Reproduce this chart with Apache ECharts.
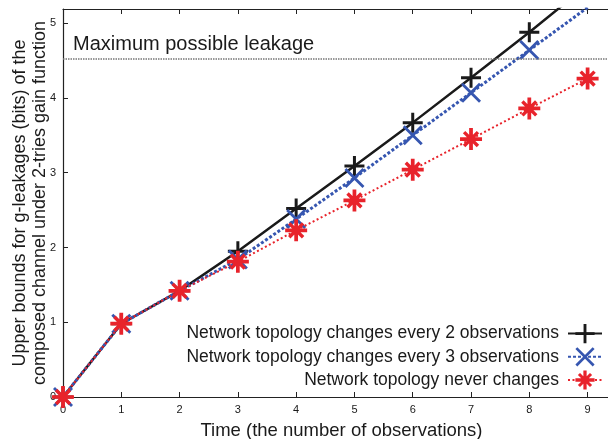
<!DOCTYPE html>
<html>
<head>
<meta charset="utf-8">
<script src="https://cdn.jsdelivr.net/npm/echarts@6/dist/echarts.min.js"></script>
<style>
html,body{margin:0;padding:0;background:#fff;}
#chart{width:608px;height:439px;}
</style>
</head>
<body>
<div id="chart"></div>
<script>
// ---- data ----
const timeSteps = [0, 1, 2, 3, 4, 5, 6, 7, 8, 9];
const every2Values = [0, 0.98, 1.42, 1.95, 2.52, 3.09, 3.67, 4.27, 4.88, 5.51];
const every3Values = [0, 0.98, 1.42, 1.84, 2.38, 2.93, 3.50, 4.07, 4.64, 5.21];
const neverValues  = [0, 0.98, 1.42, 1.81, 2.23, 2.63, 3.04, 3.45, 3.86, 4.26];
const seriesNames = [
  'Network topology changes every 2 observations',
  'Network topology changes every 3 observations',
  'Network topology never changes'
];
const maxLeakage = 4.52;
const maxLeakageLabel = 'Maximum possible leakage';
const xTickLabels = ['0','1','2','3','4','5','6','7','8','9'];
const yTickLabels = ['0','1','2','3','4','5'];
const xTitle = 'Time (the number of observations)';
const yTitle = 'Upper bounds for g-leakages (bits) of the\ncomposed channel under 2-tries gain function';

// ---- chart ----
const FONT = '"Liberation Sans", Arial, Helvetica, sans-serif';
const TXT = '#1a1a1a';
const pair = (vals) => timeSteps.map((t, i) => [t, vals[i]]);
const tickText = (labels) => (v) => Number.isInteger(v) && labels[v] !== undefined ? labels[v] : '';

const plusPath = 'path://M8.5,0h3v20h-3z M0,8.5h20v3h-20z';
const crossPath = 'path://M0,2 L2,0 L20,18 L18,20 Z M18,0 L20,2 L2,20 L0,18 Z';
const starPath = 'path://M8.3,0h3.4v20h-3.4z M0,8.3h20v3.4h-20z M2.6,4.8 L4.8,2.6 L17.4,15.2 L15.2,17.4 Z M15.2,2.6 L17.4,4.8 L4.8,17.4 L2.6,15.2 Z';

const chart = echarts.init(document.getElementById('chart'), null, {renderer: 'canvas'});
chart.setOption({
  animation: false,
  backgroundColor: '#fff',
  textStyle: {fontFamily: FONT, color: TXT},
  grid: {left: 63, right: 0, top: 9, bottom: 42, containLabel: false, outerBoundsMode: 'none'},
  legend: {
    orient: 'vertical',
    right: 5,
    top: 324,
    align: 'right',
    itemWidth: 34,
    itemHeight: 24,
    itemGap: 4,
    padding: 0,
    textStyle: {fontFamily: FONT, fontSize: 17.5, color: TXT, padding: [0, 4, 0, 0]},
    data: seriesNames
  },
  xAxis: [{
    type: 'value', min: 0, max: 9.35, interval: 1, position: 'bottom',
    name: xTitle, nameLocation: 'middle', nameGap: 24, nameMoveOverlap: false,
    nameTextStyle: {fontFamily: FONT, fontSize: 18.5, color: TXT, padding: [0, 0, 0, 12]},
    axisLine: {lineStyle: {color: '#222', width: 1.2}},
    axisTick: {inside: true, length: 5, lineStyle: {color: '#222'}},
    axisLabel: {fontFamily: FONT, fontSize: 11, color: TXT, margin: 7, showMaxLabel: false,
      formatter: tickText(xTickLabels)},
    splitLine: {show: false}
  }, {
    type: 'value', min: 0, max: 9.35, interval: 1, position: 'top',
    axisLine: {show: true, lineStyle: {color: '#222', width: 1.2}},
    axisTick: {inside: true, length: 5, lineStyle: {color: '#222'}},
    axisLabel: {show: false},
    splitLine: {show: false}
  }],
  yAxis: [{
    type: 'value', min: 0, max: 5.19, interval: 1,
    name: yTitle, nameLocation: 'middle', nameGap: 13, nameMoveOverlap: false,
    nameTextStyle: {fontFamily: FONT, fontSize: 18, color: TXT, lineHeight: 20},
    axisLine: {lineStyle: {color: '#222', width: 1.2}},
    axisTick: {inside: true, length: 5, lineStyle: {color: '#222'}},
    axisLabel: {fontFamily: FONT, fontSize: 11, color: TXT, margin: 7, showMaxLabel: false,
      formatter: tickText(yTickLabels)},
    splitLine: {show: false}
  }],
  series: [{
    name: seriesNames[0], type: 'line', data: pair(every2Values), clip: true,
    symbol: plusPath, symbolSize: 20, color: '#1a1a1a',
    itemStyle: {color: '#1a1a1a'},
    lineStyle: {color: '#1a1a1a', width: 2.5, type: 'solid'},
    z: 2,
    markLine: {
      silent: true, symbol: 'none', animation: false,
      lineStyle: {color: '#777', width: 1.5, type: [1.5, 1]},
      label: {show: true, position: 'insideStartTop', formatter: maxLeakageLabel,
        fontFamily: FONT, fontSize: 20, color: TXT, distance: [10, 5]},
      data: [{yAxis: maxLeakage}]
    }
  }, {
    name: seriesNames[1], type: 'line', data: pair(every3Values), clip: true,
    symbol: crossPath, symbolSize: 20, color: '#3656b0',
    itemStyle: {color: '#3656b0'},
    lineStyle: {color: '#3656b0', width: 3, type: [3, 2]},
    z: 3
  }, {
    name: seriesNames[2], type: 'line', data: pair(neverValues), clip: true,
    symbol: starPath, symbolSize: 22, color: '#e8232b',
    itemStyle: {color: '#e8232b'},
    lineStyle: {color: '#e8232b', width: 2, type: [2, 2.5]},
    z: 4
  }]
});
</script>
</body>
</html>
